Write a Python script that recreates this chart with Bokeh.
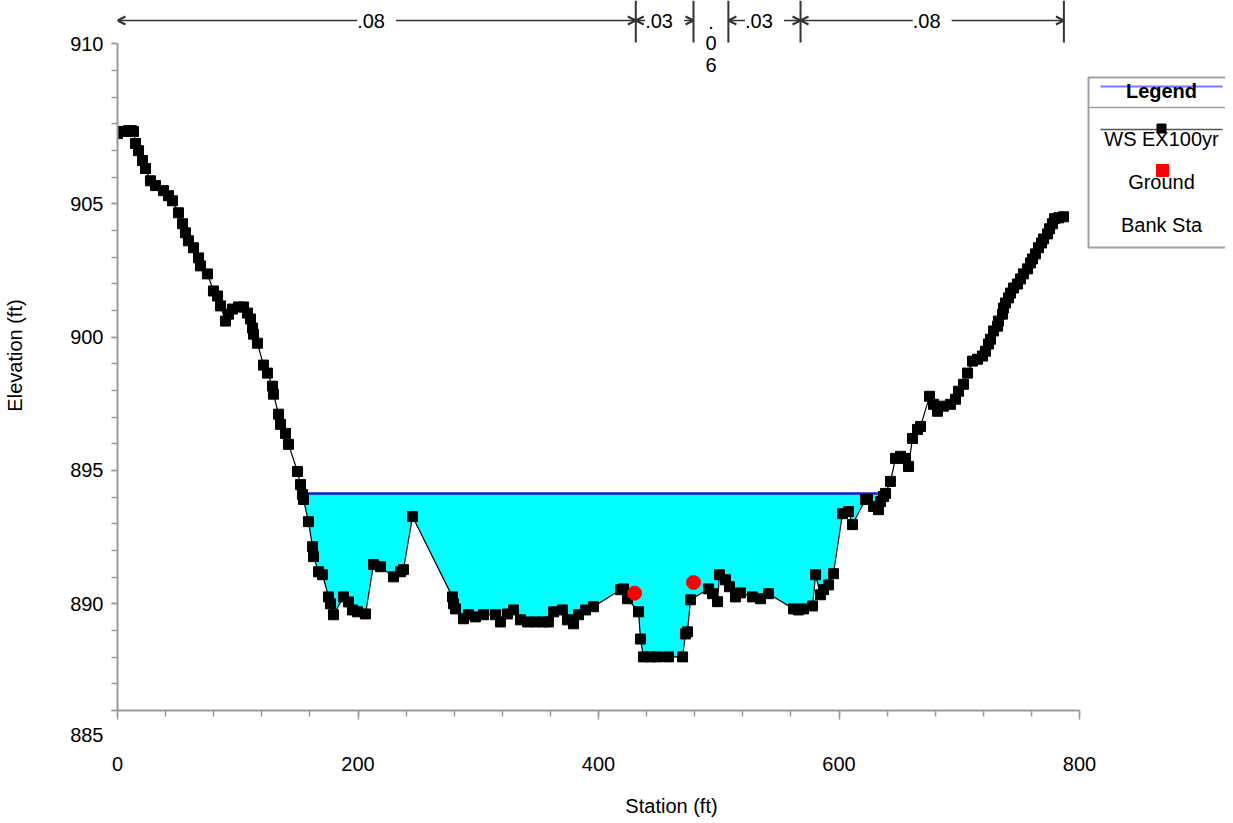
import numpy as np
from bokeh.plotting import figure
from bokeh.models import FixedTicker, Label, Arrow, OpenHead, Range1d
from bokeh.embed import file_html
from bokeh.resources import INLINE

# ---------------- data ----------------
station = [0.0, 2.5, 5.8, 9.1, 11.6, 13.3, 15.0, 17.5, 20.8, 23.3,
           27.4, 31.6, 38.3, 42.4, 45.7, 50.7, 54.1, 56.5, 59.0, 63.2,
           67.4, 69.0, 74.8, 79.8, 83.2, 85.7, 89.8, 92.3, 95.6, 100.6,
           104.8, 108.1, 110.6, 112.3, 113.1, 116.4, 121.4, 124.7, 128.9, 129.7,
           133.9, 135.6, 139.7, 142.2, 149.7, 152.2, 153.8, 154.7, 158.8, 162.2,
           163.0, 167.2, 170.5, 175.5, 177.1, 179.6, 187.9, 192.1, 195.4, 199.6,
           206.2, 212.9, 218.7, 229.5, 235.3, 237.8, 245.3, 278.6, 279.4, 281.1,
           287.7, 291.9, 297.7, 304.4, 314.3, 318.5, 324.3, 329.3, 335.1, 341.0,
           347.6, 354.3, 358.4, 362.6, 370.1, 374.2, 379.2, 383.4, 389.2, 395.8,
           418.3, 420.8, 424.1, 433.3, 434.9, 437.4, 443.2, 449.1, 458.2, 469.9,
           472.3, 474.0, 476.5, 491.5, 494.8, 499.0, 500.6, 505.6, 508.9, 513.9,
           518.1, 528.1, 534.7, 541.4, 562.2, 566.3, 570.5, 578.0, 580.5, 584.6,
           587.1, 591.3, 595.4, 602.9, 607.9, 611.2, 622.0, 623.7, 628.7, 632.8,
           634.5, 637.0, 638.7, 642.8, 647.0, 651.1, 655.3, 657.8, 661.1, 665.3,
           667.8, 675.3, 678.6, 681.9, 686.9, 692.7, 696.9, 699.4, 703.5, 706.9,
           711.0, 715.2, 719.3, 721.8, 724.3, 726.0, 728.5, 731.8, 732.6, 736.0,
           736.8, 738.5, 741.0, 742.6, 745.1, 748.4, 750.9, 753.4, 756.8, 759.3,
           760.9, 763.4, 765.9, 768.4, 770.1, 773.4, 775.1, 777.5, 779.2, 782.5,
           786.7]
elevation = [907.63, 907.71, 907.71, 907.74, 907.74, 907.71, 907.26, 906.99, 906.62, 906.32,
             905.86, 905.68, 905.49, 905.30, 905.11, 904.66, 904.25, 903.91, 903.61, 903.35,
             902.97, 902.67, 902.37, 901.73, 901.54, 901.17, 900.60, 900.86, 901.05, 901.13,
             901.13, 900.90, 900.68, 900.34, 900.11, 899.77, 898.95, 898.65, 898.16, 897.86,
             897.11, 896.73, 896.39, 895.98, 894.96, 894.47, 894.10, 893.91, 893.08, 892.14,
             891.77, 891.20, 891.09, 890.26, 890.00, 889.59, 890.26, 890.07, 889.77, 889.70,
             889.62, 891.47, 891.39, 891.01, 891.20, 891.28, 893.27, 890.26, 890.00, 889.81,
             889.44, 889.59, 889.51, 889.59, 889.59, 889.32, 889.62, 889.77, 889.40, 889.32,
             889.32, 889.32, 889.32, 889.70, 889.77, 889.40, 889.25, 889.59, 889.77, 889.89,
             890.53, 890.56, 890.19, 889.70, 888.68, 888.01, 888.01, 888.01, 888.01, 888.01,
             888.87, 888.95, 890.15, 890.56, 890.38, 890.08, 891.09, 890.90, 890.64, 890.26,
             890.41, 890.26, 890.19, 890.38, 889.81, 889.77, 889.81, 889.92, 891.09, 890.34,
             890.53, 890.71, 891.13, 893.38, 893.46, 892.97, 893.91, 893.91, 893.65, 893.53,
             893.83, 894.02, 894.14, 894.59, 895.45, 895.53, 895.45, 895.15, 896.20, 896.54,
             896.65, 897.78, 897.48, 897.22, 897.41, 897.48, 897.67, 897.97, 898.23, 898.65,
             899.10, 899.17, 899.29, 899.47, 899.74, 899.92, 900.23, 900.41, 900.60, 900.86,
             901.09, 901.28, 901.47, 901.65, 901.84, 901.99, 902.18, 902.37, 902.56, 902.78,
             902.93, 903.12, 903.35, 903.53, 903.68, 903.87, 904.06, 904.25, 904.44, 904.47,
             904.51]
ws_elev = 894.14
bank_sta = [430.0, 479.0]
bank_elev = [890.40, 890.80]
n_bounds = [0.0, 431.0, 479.0, 508.0, 568.0, 787.0]
n_values = [".08", ".03", ".06", ".03", ".08"]
x_ticks = [0, 200, 400, 600, 800]
x_minor = list(range(0, 801, 40))
y_ticks = [886, 890, 895, 900, 905, 911]
y_minor = list(range(886, 912))
y_overrides = {886: "\n\n885", 911: "910"}
legend_labels = ["Legend", "WS EX100yr", "Ground", "Bank Sta"]

FONT = "Liberation Sans"
FS = "20px"

# ---------------- layout ----------------
W, H = 1225, 820
ML, FB = 117, 710          # frame left / frame bottom (canvas px)
MB = H - FB
X0, X1 = 0.0, 921.4
Y0, Y1 = 886.0, 912.62
FW, FH = W - ML, FB


def dx(px):  # canvas pixel -> data x (annotation layout only)
    return X0 + (px - ML) * (X1 - X0) / FW


def dy(py):  # canvas pixel -> data y (annotation layout only)
    return Y1 - py * (Y1 - Y0) / FH


p = figure(width=W, height=H, output_backend="svg", toolbar_location=None,
           x_range=Range1d(X0, X1), y_range=Range1d(Y0, Y1),
           min_border_left=ML, min_border_bottom=MB, min_border_top=0,
           min_border_right=0, outline_line_color=None,
           background_fill_color="white", border_fill_color="white")
p.grid.visible = False

# axes
AX = "#9a9a9a"
p.xaxis.ticker = FixedTicker(ticks=x_ticks, minor_ticks=x_minor)
p.yaxis.ticker = FixedTicker(ticks=y_ticks, minor_ticks=y_minor)
p.yaxis.major_label_overrides = y_overrides
p.xaxis.bounds = (0, 800)
p.yaxis.bounds = (886, 911)
for ax in (p.xaxis, p.yaxis):
    ax.axis_line_color = AX
    ax.axis_line_width = 2
    ax.major_tick_line_color = AX
    ax.minor_tick_line_color = AX
    ax.major_tick_line_width = 1.5
    ax.minor_tick_line_width = 1.5
    ax.major_tick_in = 0
    ax.minor_tick_in = 0
    ax.major_label_text_font = FONT
    ax.major_label_text_font_size = FS
    ax.major_label_text_color = "black"
    ax.axis_label_text_font = FONT
    ax.axis_label_text_font_size = FS
    ax.axis_label_text_font_style = "normal"
    ax.axis_label_text_color = "black"
p.xaxis.major_tick_out = 9
p.xaxis.minor_tick_out = 6
p.yaxis.major_tick_out = 6
p.yaxis.minor_tick_out = 6
p.yaxis.major_label_text_line_height = 1.1
p.xaxis.major_label_standoff = 37
p.xaxis.axis_label_standoff = 21
p.yaxis.major_label_standoff = 8
p.yaxis.axis_label_standoff = 41
p.xaxis.axis_label = "Station (ft)"
p.yaxis.axis_label = "Elevation (ft)"

# water surface fill
st = np.array(station)
el = np.array(elevation)
below = np.where(el < ws_elev)[0]
i0, i1 = below[0], below[-1]
xl = float(np.interp(ws_elev, [el[i0], el[i0 - 1]], [st[i0], st[i0 - 1]]))
xr = float(np.interp(ws_elev, [el[i1], el[i1 + 1]], [st[i1], st[i1 + 1]]))
fx = [xl] + list(st[i0:i1 + 1]) + [xr]
fy = [ws_elev] + list(el[i0:i1 + 1]) + [ws_elev]
p.varea(x=fx, y1=fy, y2=[ws_elev] * len(fx), fill_color="#00FFFF")
p.line([xl, xr], [ws_elev, ws_elev], line_color="#1a1acc", line_width=2.5)

# ground
p.line(station, elevation, line_color="black", line_width=1.2)
p.scatter(station, elevation, marker="square", size=10, color="black")

# bank stations
p.scatter(bank_sta, bank_elev, marker="circle", size=14, color="#ff0000")

# n-value annotations
ya = dy(20)
for i, lab in enumerate(n_values):
    a, b = n_bounds[i], n_bounds[i + 1]
    mid = (a + b) / 2
    if lab == ".06":
        p.add_layout(Label(x=mid, y=dy(10), text="\n".join(lab), text_align="center",
                           text_baseline="top", text_font=FONT, text_font_size=FS,
                           text_color="black", text_line_height=0.98))
        continue
    for end in (a, b):
        p.add_layout(Arrow(x_start=mid, y_start=ya, x_end=end, y_end=ya,
                           line_color="#333333", line_width=1.5,
                           end=OpenHead(size=8, line_color="#333333", line_width=2)))
    p.add_layout(Label(x=mid, y=ya, text=" " + lab + " ", text_align="center",
                       text_baseline="middle", text_font=FONT, text_font_size=FS,
                       text_color="black", background_fill_color="white"))
p.segment(x0=n_bounds[1:], y0=[dy(42)] * 5, x1=n_bounds[1:], y1=[dy(0)] * 5,
          line_color="#333333", line_width=2)

# legend box (drawn by hand, HEC-RAS style)
lx0, lx1, ly0, ly1 = dx(1088), dx(1240), dy(77), dy(247)
p.quad(left=[lx0], right=[lx1], top=[ly0], bottom=[ly1], fill_color="white",
       line_color="#a0a0a0", line_width=2)
p.line([lx0, lx1], [dy(107), dy(107)], line_color="#a0a0a0", line_width=1.5)
p.line([dx(1100), dx(1222)], [dy(86), dy(86)], line_color="#7777ff", line_width=2)
p.line([dx(1100), dx(1222)], [dy(129), dy(129)], line_color="#555555", line_width=1.5)
p.scatter([dx(1161)], [dy(128)], marker="square", size=9, color="black")
p.scatter([dx(1162)], [dy(170)], marker="square", size=12, color="#ff0000")
ly = [90, 138, 181, 224]
for lab, yy in zip(legend_labels, ly):
    p.add_layout(Label(x=dx(1161), y=dy(yy), text=lab, text_align="center",
                       text_baseline="middle", text_font=FONT, text_font_size=FS,
                       text_color="black",
                       text_font_style="bold" if lab == "Legend" else "normal"))

open("out.html", "w").write(file_html(p, INLINE))
